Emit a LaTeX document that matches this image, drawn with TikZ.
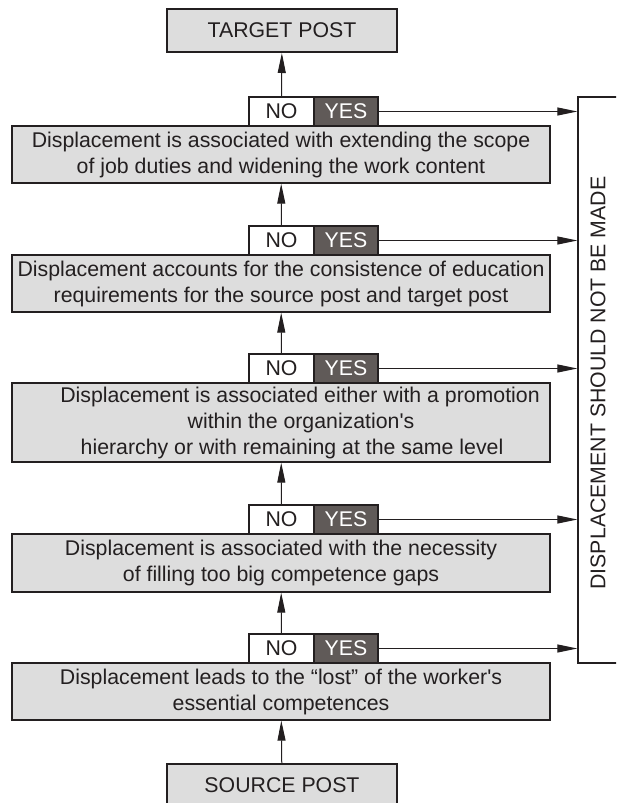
\documentclass[tikz,border=0pt]{standalone}
\usepackage{fontspec}
\setmainfont{Liberation Sans}
\usepackage{xcolor}
\usepackage{tikz}
\usetikzlibrary{arrows.meta,positioning}

\definecolor{boxgray}{RGB}{221,221,221}
\definecolor{yesgray}{RGB}{96,90,88}
\definecolor{inkdark}{RGB}{35,31,32}

\begin{document}
\begin{tikzpicture}[x=1pt,y=-1pt,>={Triangle[length=20pt,width=8pt]},
	line width=1pt,draw=inkdark,text=inkdark,
	font=\fontsize{21.3}{26}\selectfont,
	post/.style={draw,line width=2pt,fill=boxgray,minimum width=230pt,minimum height=43pt,inner sep=0pt},
	cond/.style={draw,line width=1.3pt,fill=boxgray,minimum width=538pt,align=center,inner sep=0pt},
	no/.style={draw,line width=1.3pt,fill=white,minimum width=65pt,minimum height=29pt,inner sep=0pt},
	yes/.style={draw,line width=1.3pt,fill=yesgray,text=white,minimum width=64pt,minimum height=29pt,inner sep=0pt}]
	\useasboundingbox (0,0) rectangle (616,803);
	\clip (0,0) rectangle (616,803);

	\node [post] at (282,30.5) (target) {TARGET POST};
	\node [post] at (282,785.5) (source) {SOURCE POST};
	\node [draw,line width=1.3pt,minimum width=70pt,minimum height=566pt,inner sep=0pt] at (613,380) (verdict) {};
	\node [rotate=90] at (598,383) (verdicttext) {DISPLACEMENT SHOULD NOT BE MADE};

	\node [cond,minimum height=57pt] at (281,154.5) (c1) {Displacement is associated with extending the scope\\of job duties and widening the work content};
	\node [cond,minimum height=57pt] at (281,283.5) (c2) {Displacement accounts for the consistence of education\\requirements for the source post and target post};
	\node [cond,minimum height=79pt] at (281,422.5) (c3) {\hspace*{38pt}Displacement is associated either with a promotion\\\hspace*{40pt}within the organization\textquotesingle s\\\hspace*{22pt}hierarchy or with remaining at the same level};
	\node [cond,minimum height=58pt] at (281,563) (c4) {Displacement is associated with the necessity\\of filling too big competence gaps};
	\node [cond,minimum height=57pt] at (281,691.5) (c5) {Displacement leads to the ``lost'' of the worker\textquotesingle s\\essential competences};

	\node [no] at (281.5,111.5) (no1) {NO};
	\node [yes] at (346,111.5) (yes1) {YES};
	\node [no] at (281.5,240.5) (no2) {NO};
	\node [yes] at (346,240.5) (yes2) {YES};
	\node [no] at (281.5,368.5) (no3) {NO};
	\node [yes] at (346,368.5) (yes3) {YES};
	\node [no] at (281.5,519.5) (no4) {NO};
	\node [yes] at (346,519.5) (yes4) {YES};
	\node [no] at (281.5,648.5) (no5) {NO};
	\node [yes] at (346,648.5) (yes5) {YES};

	\path[->]
	(source) edge (c5)
	(no5) edge (c4)
	(no4) edge (c3)
	(no3) edge (c2)
	(no2) edge (c1)
	(no1) edge (target)
	(yes1) edge (yes1 -| verdict.west)
	(yes2) edge (yes2 -| verdict.west)
	(yes3) edge (yes3 -| verdict.west)
	(yes4) edge (yes4 -| verdict.west)
	(yes5) edge (yes5 -| verdict.west);
\end{tikzpicture}
\end{document}
